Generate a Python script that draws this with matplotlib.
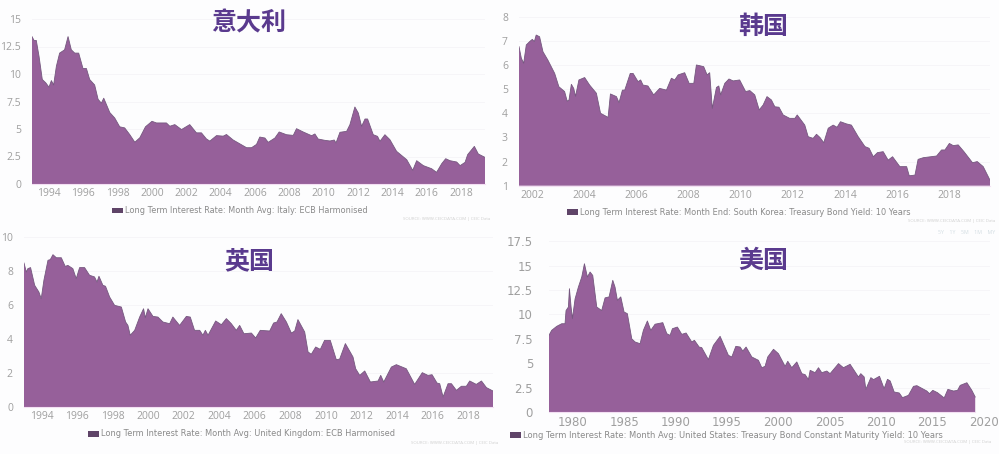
import matplotlib
matplotlib.use("Agg")
import matplotlib.pyplot as plt
from matplotlib.patches import Patch

W, H = 999, 454
FILL = "#96609a"
EDGE = "#75587f"
TITLE = "#5a3a8e"
TICK = "#9f9f9f"
LEG = "#8a8a8a"
CJK = ["Noto Sans CJK SC", "DejaVu Sans"]
LATIN = "Open Sans"

italy_years = [1993.01,1993.13,1993.26,1993.42,1993.61,1993.81,1994,1994.14,1994.27,1994.43,1994.62,1994.91,1995.11,1995.30,1995.50,1995.73,1995.98,1996.18,1996.37,1996.66,1996.86,1997.05,1997.19,1997.54,1997.83,1998.12,1998.41,1998.70,1999.0,1999.29,1999.62,2000.0,2000.26,2000.84,2001.04,2001.33,2001.72,2002.2,2002.59,2002.88,2003.17,2003.37,2003.76,2004.15,2004.34,2004.73,2005.12,2005.51,2005.8,2006.09,2006.28,2006.58,2006.77,2007.16,2007.41,2007.84,2008.23,2008.42,2008.81,2009.3,2009.49,2009.68,2010.07,2010.37,2010.62,2010.72,2010.95,2011.34,2011.53,2011.82,2012.02,2012.21,2012.41,2012.56,2012.89,2013.14,2013.28,2013.57,2013.86,2014.25,2014.84,2015.19,2015.42,2015.81,2016.29,2016.58,2016.88,2017.11,2017.36,2017.75,2017.95,2018.24,2018.39,2018.78,2019.01,2019.4]
italy_rate = [13.4,13.05,13.05,11.6,9.5,9.2,8.8,9.4,9.0,10.7,11.9,12.2,13.4,12.2,11.9,11.9,10.5,10.5,9.5,9.0,7.7,7.35,7.8,6.5,6.0,5.2,5.1,4.5,3.8,4.2,5.2,5.7,5.55,5.55,5.25,5.4,4.95,5.4,4.65,4.65,4.1,3.9,4.4,4.35,4.5,4.0,3.65,3.3,3.3,3.6,4.27,4.18,3.79,4.18,4.73,4.48,4.42,5.03,4.73,4.39,4.55,4.09,3.97,3.91,4.0,3.73,4.7,4.79,5.39,7.0,6.45,5.24,5.91,5.91,4.48,4.33,3.88,4.48,4.03,2.97,2.21,1.24,2.12,1.67,1.39,1.06,1.85,2.3,2.12,2.0,1.67,1.97,2.67,3.42,2.73,2.42]

korea_years = [2001.49,2001.58,2001.67,2001.77,2001.9,2002,2002.08,2002.15,2002.28,2002.41,2002.6,2002.86,2003.02,2003.24,2003.34,2003.41,2003.5,2003.59,2003.66,2003.79,2004.01,2004.2,2004.46,2004.62,2004.91,2005.0,2005.23,2005.33,2005.46,2005.55,2005.76,2005.87,2006.06,2006.16,2006.25,2006.44,2006.66,2006.89,2007.15,2007.34,2007.47,2007.6,2007.85,2008.02,2008.2,2008.3,2008.43,2008.58,2008.71,2008.81,2008.91,2009.07,2009.16,2009.23,2009.39,2009.55,2009.71,2009.96,2010.19,2010.35,2010.54,2010.71,2010.86,2011.01,2011.18,2011.31,2011.47,2011.63,2011.88,2012.08,2012.17,2012.46,2012.59,2012.78,2012.91,2013.04,2013.19,2013.36,2013.55,2013.7,2013.83,2014.06,2014.25,2014.51,2014.77,2014.93,2015.09,2015.25,2015.47,2015.66,2015.83,2016.11,2016.37,2016.47,2016.69,2016.81,2017.01,2017.52,2017.71,2017.84,2018.01,2018.16,2018.35,2018.57,2018.9,2019.08,2019.31,2019.57]
korea_rate = [6.76,6.28,6.07,6.83,6.97,7.06,6.97,7.24,7.17,6.55,6.2,5.65,5.1,4.9,4.5,4.55,5.2,5.03,4.7,5.38,5.48,5.17,4.83,4.0,3.83,4.8,4.69,4.44,4.96,4.96,5.65,5.65,5.31,5.38,5.17,5.13,4.76,5.03,4.96,5.45,5.38,5.59,5.68,5.24,5.24,6.0,5.97,5.93,5.59,5.68,4.2,5.07,5.13,4.76,5.24,5.42,5.34,5.38,4.9,4.94,4.76,4.14,4.34,4.69,4.55,4.27,4.25,3.93,3.79,3.79,3.93,3.51,3.03,2.96,3.13,3.0,2.78,3.38,3.51,3.42,3.65,3.56,3.51,3.03,2.62,2.55,2.2,2.37,2.41,2.06,2.2,1.79,1.79,1.41,1.44,2.09,2.16,2.23,2.48,2.48,2.75,2.66,2.69,2.41,1.95,2.0,1.79,1.23]

uk_years = [1993.01,1993.14,1993.23,1993.38,1993.61,1993.85,1993.98,1994.13,1994.36,1994.49,1994.64,1994.83,1995.11,1995.33,1995.48,1995.76,1995.95,1996.14,1996.42,1996.7,1996.98,1997.12,1997.23,1997.45,1997.6,1997.83,1998.11,1998.49,1998.73,1998.86,1998.99,1999.24,1999.52,1999.74,1999.84,1999.99,2000.27,2000.55,2000.83,2001.21,2001.39,2001.77,2002.15,2002.37,2002.61,2002.9,2003.08,2003.22,2003.37,2003.8,2004.12,2004.4,2004.68,2004.96,2005.15,2005.39,2005.81,2006.05,2006.31,2006.84,2007.06,2007.25,2007.49,2007.78,2008.06,2008.25,2008.43,2008.81,2009,2009.18,2009.43,2009.69,2009.93,2010.25,2010.59,2010.78,2011.1,2011.53,2011.68,2011.91,2012.19,2012.51,2012.94,2013.09,2013.26,2013.69,2013.97,2014.53,2015,2015.43,2015.75,2015.98,2016.26,2016.41,2016.6,2016.88,2017.07,2017.35,2017.63,2017.91,2018.1,2018.47,2018.76,2019.04,2019.41]
uk_rate = [8.47,7.94,8.14,8.2,7.16,6.76,6.37,7.45,8.63,8.67,8.96,8.78,8.78,8.27,8.33,8.14,7.55,8.2,8.2,7.75,7.65,7.35,7.69,7.16,7.1,6.47,5.98,5.88,5.0,4.8,4.22,4.51,5.29,5.78,5.25,5.78,5.33,5.29,5.0,4.9,5.29,4.8,5.33,5.29,4.51,4.51,4.22,4.51,4.22,5.06,4.84,5.2,4.9,4.51,4.8,4.31,4.35,4.06,4.51,4.47,4.94,5.0,5.49,5.0,4.35,4.47,5.14,4.41,3.24,3.1,3.53,3.39,3.92,3.92,2.78,2.82,3.73,2.94,2.25,1.86,2.12,1.47,1.53,1.86,1.47,2.35,2.49,2.25,1.33,2.02,1.86,1.9,1.41,1.37,0.59,1.37,1.37,0.98,1.22,1.22,1.53,1.33,1.53,1.14,0.94]

us_years = [1977.69,1977.95,1978.44,1978.93,1979.25,1979.35,1979.58,1979.68,1979.84,1979.97,1980.23,1980.55,1980.88,1981.14,1981.43,1981.69,1981.95,1982.34,1982.82,1983.15,1983.54,1983.9,1984.12,1984.35,1984.68,1985,1985.32,1985.75,1986.07,1986.56,1986.88,1987.27,1987.6,1988.02,1988.77,1989.16,1989.48,1989.71,1990.19,1990.62,1991.04,1991.59,1991.85,1992.31,1992.56,1993.21,1993.7,1994.35,1995.16,1995.49,1995.88,1996.3,1996.56,1996.88,1997.44,1998.08,1998.41,1998.73,1998.99,1999.55,2000.03,2000.68,2000.94,2001.33,2001.82,2002.31,2002.63,2002.95,2003.12,2003.6,2003.93,2004.25,2004.74,2005.06,2005.88,2006.36,2007.01,2007.82,2008.05,2008.38,2008.54,2009.03,2009.29,2009.87,2010.32,2010.65,2010.91,2011.3,2011.79,2012.11,2012.69,2013.18,2013.51,2014.48,2014.74,2015.06,2015.52,2016.17,2016.53,2017.08,2017.47,2017.73,2018.38,2018.86,2019.19]
us_rate = [7.86,8.37,8.78,9.05,9.05,10.4,10.76,12.64,10.76,9.57,11.6,12.8,13.84,15.2,13.84,14.35,14.0,10.76,10.4,11.7,11.8,13.5,12.8,11.45,11.8,10.25,10.08,7.5,7.18,7.0,8.37,9.33,8.37,9.0,9.16,8.03,7.86,8.54,8.71,7.96,8.1,7.18,7.35,6.66,6.6,5.37,6.83,7.76,5.81,5.64,6.73,6.66,6.25,6.66,5.64,5.3,4.54,4.68,5.64,6.43,5.98,4.68,5.2,4.54,5.13,3.93,3.83,3.32,4.27,4.03,4.54,4.03,4.2,3.93,4.96,4.54,4.89,3.59,3.93,3.59,2.32,3.52,3.32,3.66,2.39,3.35,3.18,2.05,1.95,1.47,1.71,2.63,2.7,2.15,1.88,2.22,1.98,1.44,2.32,2.15,2.22,2.73,3.0,2.22,1.54]

italy_yticks = [0, 2.5, 5, 7.5, 10, 12.5, 15]
italy_ylabels = ["0", "2.5", "5", "7.5", "10", "12.5", "15"]
korea_yticks = [1, 2, 3, 4, 5, 6, 7, 8]
uk_yticks = [0, 2, 4, 6, 8, 10]
us_yticks = [0, 2.5, 5, 7.5, 10, 12.5, 15, 17.5]
us_ylabels = ["0", "2.5", "5", "7.5", "10", "12.5", "15", "17.5"]

fig = plt.figure(figsize=(W / 100, H / 100), dpi=100, facecolor="#fdfdfe")


def panel(box, xlim, ylim, years, rate, xticks, yticks, ylabels, title, title_xy,
          legend, legend_xy, legend_size, source, source_xy, tick_size=7.5, wide=False, ypad=8):
    x0, x1, ytop, ybot = box
    ax = fig.add_axes([x0 / W, 1 - ybot / H, (x1 - x0) / W, (ybot - ytop) / H])
    ax.set_facecolor("none")
    ax.fill_between(years, rate, ylim[0], facecolor=FILL, edgecolor="none", zorder=2)
    ax.plot(years, rate, color=EDGE, lw=0.6, zorder=3)
    ax.set_xlim(*xlim)
    ax.set_ylim(*ylim)
    ax.set_xticks(xticks)
    ax.set_xticklabels([str(v) for v in xticks])
    ax.set_yticks(yticks)
    ax.set_yticklabels(ylabels)
    ax.grid(axis="y", color="#f6f5f8", lw=0.7, zorder=0)
    ax.tick_params(axis="x", length=0, labelsize=tick_size, labelcolor=TICK, pad=3)
    ax.tick_params(axis="y", length=0, labelsize=tick_size, labelcolor=TICK, pad=ypad)
    for lab in ax.get_xticklabels() + ax.get_yticklabels():
        lab.set_fontfamily("DejaVu Sans" if wide else LATIN)
    for s in ("top", "left", "right"):
        ax.spines[s].set_visible(False)
    ax.spines["bottom"].set_color("#f3dff3")
    ax.spines["bottom"].set_linewidth(0.8)
    ax.spines["bottom"].set_bounds(years[0], years[-1])
    fig.text(title_xy[0] / W, 1 - title_xy[1] / H, title, family=CJK, weight="bold",
             fontsize=18, color=TITLE, ha="center", va="center")
    fig.legend(handles=[Patch(facecolor="#5f4468", edgecolor="none", label=legend)],
               loc="center left", bbox_to_anchor=(legend_xy[0] / W, 1 - legend_xy[1] / H),
               frameon=False, fontsize=legend_size, labelcolor=LEG, handlelength=1.3,
               handleheight=0.7, handletextpad=0.3, borderpad=0, borderaxespad=0)
    fig.text(source_xy[0] / W, 1 - source_xy[1] / H, source, family=LATIN, fontsize=3.2,
             color="#d0d0d0", ha="right", va="center")
    return ax


panel((32, 485, 19, 184), (1993.01, 2019.4), (0, 15), italy_years, italy_rate,
      list(range(1994, 2019, 2)), italy_yticks, italy_ylabels, "意大利", (249, 23),
      "Long Term Interest Rate: Month Avg: Italy: ECB Harmonised", (112, 211), 5.9,
      "SOURCE: WWW.CEICDATA.COM | CEIC Data", (490, 219))

panel((519, 990, 16.7, 185.7), (2001.49, 2019.57), (1, 8), korea_years, korea_rate,
      list(range(2002, 2019, 2)), korea_yticks, [str(v) for v in korea_yticks], "韩国", (763, 27),
      "Long Term Interest Rate: Month End: South Korea: Treasury Bond Yield: 10 Years", (567, 212), 5.97,
      "SOURCE: WWW.CEICDATA.COM | CEIC Data", (995, 221))

panel((24, 493, 237, 407), (1993.01, 2019.41), (0, 10), uk_years, uk_rate,
      list(range(1994, 2019, 2)), uk_yticks, [str(v) for v in uk_yticks], "英国", (249, 261),
      "Long Term Interest Rate: Month Avg: United Kingdom: ECB Harmonised", (88, 434), 5.96,
      "SOURCE: WWW.CEICDATA.COM | CEIC Data", (498, 443))

panel((549, 990, 241.3, 412), (1977.69, 2020.63), (0, 17.5), us_years, us_rate,
      list(range(1980, 2021, 5)), us_yticks, us_ylabels, "美国", (763, 261),
      "Long Term Interest Rate: Month Avg: United States: Treasury Bond Constant Maturity Yield: 10 Years", (510, 435.5), 6.07,
      "SOURCE: WWW.CEICDATA.COM | CEIC Data", (991, 442), tick_size=8.5, wide=True, ypad=11.5)

fig.text(995 / W, 1 - 233 / H, "5Y    1Y    5M    1M    MY", family=LATIN, fontsize=3.8,
         color="#d2dde2", ha="right", va="center")

fig.savefig("out.png", dpi=100, facecolor=fig.get_facecolor())
